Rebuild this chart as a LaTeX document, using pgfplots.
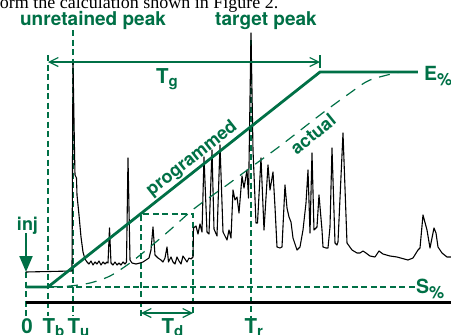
\documentclass[border=0pt]{standalone}
\usepackage{fontspec}
\setmainfont{TeX Gyre Heros}
\newfontfamily\serifont{Liberation Serif}
\usepackage{pgfplots}
\pgfplotsset{compat=1.18}
\usetikzlibrary{arrows.meta}
\definecolor{dg}{RGB}{0,112,70}
\newcommand{\sub}[1]{\raisebox{-3pt}{\fontsize{15}{15}\selectfont #1}}
\newcommand{\psub}[1]{\raisebox{-5pt}{\fontsize{17}{17}\selectfont #1}}
\newcommand{\lab}{\fontsize{18}{20}\selectfont\bfseries}
\newcommand{\plab}{\fontsize{19}{21}\selectfont\bfseries}
\newcommand{\tlab}{\fontsize{20.5}{22}\selectfont\bfseries}
\newcommand{\elab}{\fontsize{19.5}{21}\selectfont\bfseries}
\begin{document}
\begin{tikzpicture}
\begin{axis}[at={(0,0)},anchor=south west, scale only axis, width=451pt, height=335pt,
  xmin=0,xmax=451,ymin=0,ymax=335, y dir=reverse, hide axis, clip=false]

% dashed guides
\addplot[dg, line width=1.25pt, dash pattern=on 6pt off 3.5pt] coordinates {(26,272)(26,316)};
\addplot[dg, line width=1.25pt, dash pattern=on 6pt off 3.5pt] coordinates {(48,55)(48,316)};
\addplot[dg, line width=1.25pt, dash pattern=on 6pt off 3.5pt] coordinates {(73,30)(73,316)};
\addplot[dg, line width=1.25pt, dash pattern=on 6pt off 3.5pt] coordinates {(141,316)(141,214)(193,214)(193,316)};
\addplot[dg, line width=1.25pt, dash pattern=on 6pt off 3.5pt] coordinates {(251,40)(251,318)};
\addplot[dg, line width=1.25pt, dash pattern=on 6pt off 3.5pt] coordinates {(48,287)(415,287)};

% baseline
\addplot[black, line width=3pt] coordinates {(26,302)(451,302)};

% chromatogram
\addplot[black, line width=1.1pt, line join=round] coordinates {
(26,272)(72,271)(73,62)(74.5,150)(75,175)(76.5,178)(77,195)(79,215)(81,237)(83,252)(85,259)(87,262)
(89,264)(91,261)(93,265)(95,262)(97,264)(99,261)(101,265)(103,262)(105,264)(107,262)(108,263)(109.5,228)
(111,263)(113,265)(115,262)(117,265)(119,263)(121,265)(123,262)(125,264)(126.5,262)(128,158)(130,260)
(132,263)(136,264)(140,263)(143,262)(146,260)(149,258)(151,250)(153,227)(155,255)(158,258)(161,260)
(163,262)(165,258)(167,247)(168.5,262)(171,257)(173,262)(175,264)(177,257)(179,261)(181,264)(183,256)
(185,259)(187,262)(189,258)(191,259)(193,257)(193.5,228)(196,226)(198,234)(200,224)(202,232)(204,157)
(207,232)(209,234)(212,150)(214,229)(217,236)(220,145)(223,232)(225,236)(227,240)(229,230)(231,238)
(233,190)(235,200)(237,197)(239,213)(242,176)(244,188)(247,170)(248.5,198)(251,33)(253,150)(256,223)
(257.5,223)(261,158)(264,230)(268,165)(270,190)(273,172)(275,207)(277,247)(280,248)(282,247)(285,185)
(287,208)(289,217)(291,222)(293,238)(297,250)(300,247)(303,230)(306,203)(308,170)(310,233)(312,153)
(314,230)(317,227)(319,195)(322,230)(323,247)(326,248)(328,248)(330,227)(332,148)(335,243)(337,245)
(338,242)(343,133)(347,243)(352,250)(357,253)(360,253)(363,251)(366,253)(370,256)(375,257)(379,251)
(383,254)(390,256)(397,257)(408,260)(413,258)(418,250)(420,248)(423,215)(427,230)(430,248)(434,228)
(436,233)(438,247)(442,253)(447,257)(451,257)};

% programmed
\addplot[dg, line width=2.8pt, line join=miter] coordinates {(26,287)(48,287)(320,72)(418,72)};

% actual
\addplot[dg, line width=1.2pt, dash pattern=on 11pt off 8pt, smooth] coordinates {
(48,287)(70,286)(90,283)(110,276)(130,263)(150,247)(170,230)(195,208)(227,185)(250,168)(280,146)
(320,115)(350,93)(370,80)(400,72)};

% arrows
\draw[dg, line width=1.2pt, {Straight Barb[length=9pt,width=9pt]}-{Straight Barb[length=9pt,width=9pt]}] (axis cs:48,62) -- (axis cs:320,62);
\draw[dg, line width=1.2pt] (axis cs:320,55)--(axis cs:320,68);
\draw[dg, line width=1.2pt, {Straight Barb[length=9pt,width=9pt]}-{Straight Barb[length=9pt,width=9pt]}] (axis cs:141,313) -- (axis cs:193,313);
\draw[dg, line width=2.2pt, -{Triangle[length=16pt,width=13pt]}] (axis cs:26,233) -- (axis cs:26,272);

% labels
\node[black, anchor=base east, inner sep=0, font=\serifont\fontsize{18}{20}\selectfont] at (axis cs:278.5,8.5) {form the calculation shown in Figure 2.};
\node[dg, anchor=base, inner sep=0, font=\plab] at (axis cs:93,25) {unretained peak};
\node[dg, anchor=base, inner sep=0, font=\plab] at (axis cs:266,25) {target peak};
\node[dg, anchor=base west, inner sep=0, font=\tlab] at (axis cs:156,83) {T\sub{g}};
\node[dg, anchor=base west, inner sep=0, font=\elab] at (axis cs:424,80) {E\psub{\%}};
\node[dg, anchor=base west, inner sep=0, font=\elab] at (axis cs:416,293) {S\psub{\%}};
\node[dg, anchor=base, inner sep=0, font=\lab] at (axis cs:27.5,230) {inj};
\node[dg, anchor=base, inner sep=0, font=\tlab] at (axis cs:27,333) {0};
\node[dg, anchor=base west, inner sep=0, font=\tlab] at (axis cs:42.5,333) {T\sub{b}};
\node[dg, anchor=base west, inner sep=0, font=\tlab] at (axis cs:67.5,333) {T\sub{u}};
\node[dg, anchor=base west, inner sep=0, font=\tlab] at (axis cs:161.5,333) {T\sub{d}};
\node[dg, anchor=base west, inner sep=0, font=\tlab] at (axis cs:244.5,333) {T\sub{r}};
\node[dg, rotate=38.3, inner sep=0, font=\lab] at (axis cs:192,159) {programmed};
\node[dg, rotate=39, inner sep=0, font=\lab] at (axis cs:313,134) {actual};
\end{axis}
\pgfresetboundingbox
\path[use as bounding box] (0,0) rectangle (451pt,335pt);
\end{tikzpicture}
\end{document}
